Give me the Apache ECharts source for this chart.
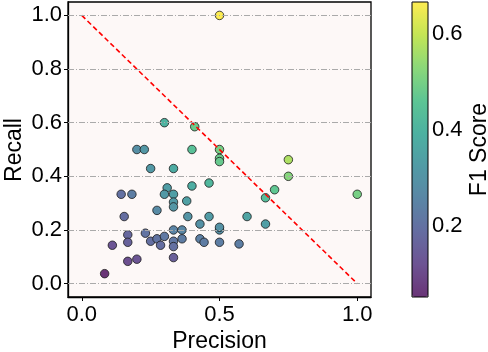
<!DOCTYPE html>
<html><head><meta charset="utf-8">
<script src="https://cdn.jsdelivr.net/npm/echarts@6/dist/echarts.min.js"></script>
<style>html,body{margin:0;padding:0;background:#fff}#c{width:488px;height:352px}</style>
</head><body><div id="c"></div>
<script>
const precision = [0.5,0.3,0.41,0.2,0.227,0.4,0.5,0.5,0.5,0.75,0.75,0.25,0.333,0.4,0.462,0.7,0.31,0.143,0.182,0.3,0.333,0.667,1.0,0.381,0.333,0.333,0.273,0.154,0.385,0.462,0.6,0.429,0.667,0.333,0.364,0.5,0.5,0.231,0.167,0.167,0.25,0.273,0.3,0.286,0.333,0.333,0.364,0.429,0.444,0.5,0.571,0.111,0.167,0.2,0.333,0.083];
const recall    = [1.0,0.6,0.585,0.5,0.5,0.5,0.5,0.467,0.455,0.462,0.4,0.429,0.429,0.364,0.375,0.35,0.357,0.333,0.333,0.333,0.333,0.32,0.333,0.308,0.304,0.286,0.273,0.25,0.25,0.25,0.25,0.222,0.222,0.2,0.2,0.2,0.21,0.188,0.182,0.154,0.158,0.167,0.176,0.143,0.158,0.138,0.167,0.167,0.154,0.154,0.148,0.143,0.083,0.091,0.097,0.037];
const xTicks = [0.0,0.5,1.0];
const yTicks = [0.0,0.2,0.4,0.6,0.8,1.0];
const cbTicks = [0.2,0.4,0.6];
const diagonal = [[0,1],[1,0]];
// viridis, drawn at 80% opacity over white
const viridis80 = ['#693476','#6d5393','#656da1','#5a86a5','#519ba5','#4cb1a1','#5dc594','#8bd879','#c4e555','#fdec51'];

const f1 = precision.map((p,i)=>2*p*recall[i]/(p+recall[i]));
const pts = precision.map((p,i)=>[p,recall[i],f1[i]]);
const fmin = Math.min(...f1), fmax = Math.max(...f1);
const FONT = 'Liberation Sans';

const chart = echarts.init(document.getElementById('c'));
chart.setOption({
  animation:false,
  textStyle:{fontFamily:FONT},
  grid:[
    {left:68,top:2,width:303,height:295,show:true,containLabel:false,outerBoundsMode:'none',backgroundColor:'#fdf8f7',borderColor:'#000',borderWidth:1.3,z:0},
    {left:412,top:2,width:16,height:295,show:true,containLabel:false,outerBoundsMode:'none',backgroundColor:'transparent',borderColor:'#000',borderWidth:1,z:10}
  ],
  graphic:[
    {type:'text',x:15,y:150,rotation:Math.PI/2,
     style:{text:'Recall',font:'23px "Liberation Sans"',fill:'#000',align:'center',verticalAlign:'middle'}}
  ],
  xAxis:[
    {gridIndex:0,type:'value',min:-0.05,max:1.05,
      name:'Precision',nameLocation:'middle',nameGap:33,nameMoveOverlap:false,nameTextStyle:{fontSize:23,color:'#000',fontFamily:FONT},
      axisLine:{show:true,onZero:false,lineStyle:{color:'#000',width:1.3}},
      axisTick:{show:true,length:4,lineStyle:{color:'#000'},customValues:xTicks},
      axisLabel:{fontSize:22,color:'#000',margin:7,customValues:xTicks,formatter:v=>v.toFixed(1)},
      splitLine:{show:false}},
    {gridIndex:1,type:'value',min:0,max:1,show:false}
  ],
  yAxis:[
    {gridIndex:0,type:'value',min:-0.05,max:1.05,
      axisLine:{show:true,onZero:false,lineStyle:{color:'#000',width:1.3}},
      axisTick:{show:true,length:4,lineStyle:{color:'#000'},customValues:yTicks},
      axisLabel:{fontSize:22,color:'#000',margin:6,customValues:yTicks,formatter:v=>v.toFixed(1)},
      splitLine:{show:false}},
    {gridIndex:1,type:'value',position:'right',min:fmin,max:fmax,
      name:'F1 Score',nameLocation:'middle',nameGap:40,nameRotate:90,nameMoveOverlap:false,nameTextStyle:{fontSize:23,color:'#000',fontFamily:FONT},
      axisLine:{show:false},
      axisTick:{show:true,length:4,lineStyle:{color:'#000'},customValues:cbTicks},
      axisLabel:{fontSize:22,color:'#000',margin:4,customValues:cbTicks,formatter:v=>v.toFixed(1)},
      splitLine:{show:false}}
  ],
  visualMap:{
    type:'continuous',seriesIndex:1,dimension:2,min:fmin,max:fmax,
    inRange:{color:viridis80},
    left:412,top:2,itemWidth:16,itemHeight:295,padding:0,
    calculable:false,text:null,showLabel:false,realtime:false,hoverLink:false
  },
  series:[
    {type:'line',xAxisIndex:0,yAxisIndex:0,data:[],silent:true,
     markLine:{symbol:'none',silent:true,label:{show:false},
       lineStyle:{color:'#aaaaaa',type:[6,2,1,2],width:1},
       data:yTicks.map(v=>({yAxis:v}))},z:1},
    {type:'scatter',xAxisIndex:0,yAxisIndex:0,data:pts,symbolSize:8.5,
     itemStyle:{borderColor:'#1a1a1a',borderWidth:0.8,opacity:1},z:2},
    {type:'line',xAxisIndex:0,yAxisIndex:0,data:diagonal,showSymbol:false,symbol:'none',
     lineStyle:{color:'#ff0000',type:[5,3],width:1.6},z:3}
  ]
});
</script></body></html>
